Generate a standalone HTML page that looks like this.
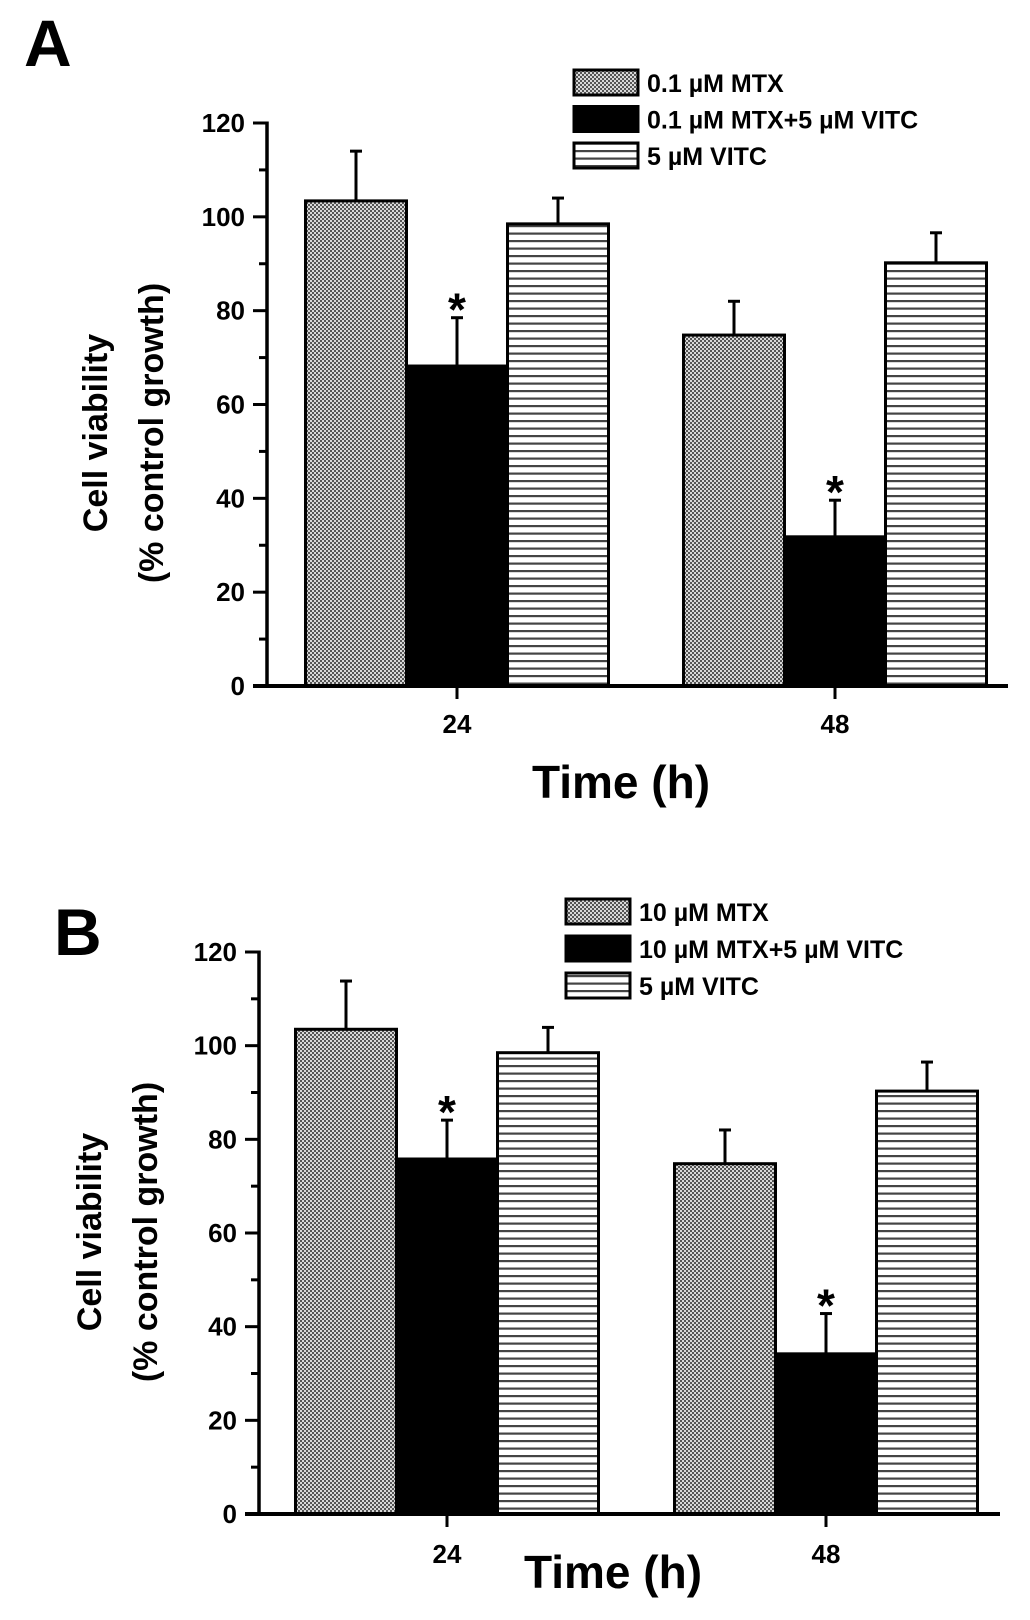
<!DOCTYPE html>
<html><head><meta charset="utf-8">
<style>
html,body{margin:0;padding:0;background:#fff;}
svg{display:block;font-family:"Liberation Sans",Arial,sans-serif;font-weight:bold;}
</style></head>
<body>
<svg id="fig" width="1030" height="1620" viewBox="0 0 1030 1620" xmlns="http://www.w3.org/2000/svg">
<defs>
<pattern id="dots" width="4" height="4" patternUnits="userSpaceOnUse">
<rect width="4" height="4" fill="#d8d8d8"/>
<rect width="2" height="2" fill="#555"/>
<rect x="2" y="2" width="2" height="2" fill="#555"/>
</pattern>
<pattern id="hlines" width="8" height="7.5" patternUnits="userSpaceOnUse">
<rect width="8" height="7.5" fill="#fff"/>
<rect y="0" width="8" height="2.2" fill="#444"/>
</pattern>
</defs>
</svg>
<script>
const categories = ["24", "48"];
const yTicks = [0, 20, 40, 60, 80, 100, 120];
const legendA = ["0.1 µM MTX", "0.1 µM MTX+5 µM VITC", "5 µM VITC"];
const legendB = ["10 µM MTX", "10 µM MTX+5 µM VITC", "5 µM VITC"];
const aMTX = [103.4, 74.8];
const aCombo = [68.2, 31.8];
const aVitc = [98.5, 90.2];
const aMTXErr = [10.6, 7.2];
const aComboErr = [10.3, 7.8];
const aVitcErr = [5.5, 6.4];
const bMTX = [103.5, 74.8];
const bCombo = [75.8, 34.2];
const bVitc = [98.5, 90.3];
const bMTXErr = [10.3, 7.2];
const bComboErr = [8.3, 8.6];
const bVitcErr = [5.4, 6.2];
const aStars = [false, true, false];
const bStars = [false, true, false];

const NS = "http://www.w3.org/2000/svg";
const svg = document.getElementById("fig");
function mk(tag, attrs, parent, text) {
  const e = document.createElementNS(NS, tag);
  for (const k in attrs) e.setAttribute(k, attrs[k]);
  if (text !== undefined) e.textContent = text;
  (parent || svg).appendChild(e);
  return e;
}

function drawPanel(cfg) {
  const g = mk("g", {});
  
  
  const yScale = v => cfg.y0 - (cfg.y0 - cfg.y120) * v / 120;
  const groupCenters = cfg.groupCenters;
  const bw = cfg.barW;
  const xBar = (gi, si) => groupCenters[gi] + (si - 1) * bw - bw / 2;

  const series = [cfg.s1, cfg.s2, cfg.s3];
  const errs = [cfg.e1, cfg.e2, cfg.e3];
  const fills = ["url(#dots)", "#000", "url(#hlines)"];
  const snames = ["mtx", "combo", "vitc"];
  for (let gi = 0; gi < categories.length; gi++) {
    for (let si = 0; si < 3; si++) {
      const v = series[si][gi];
      const x = xBar(gi, si);
      const top = yScale(v);
      const et = yScale(v + errs[si][gi]);
      const cx = x + bw / 2;
      const el = mk("line", {x1: cx, x2: cx, y1: top, y2: et, stroke: "#000", "stroke-width": 3}, g);
      
      
      const cap = mk("line", {x1: cx - 6, x2: cx + 6, y1: et, y2: et, stroke: "#000", "stroke-width": 3}, g);
      
      
      const r = mk("rect", {x: x, y: top, width: bw, height: cfg.y0 - top, fill: fills[si], stroke: "#000", "stroke-width": 3}, g);
      
      
      if (cfg.stars[si]) {
        const s = mk("text", {x: cx, y: et + 8, "text-anchor": "middle", "font-size": 46}, g, "*");
        
        
      }
    }
  }
  const ya = mk("line", {x1: cfg.ax, x2: cfg.ax, y1: cfg.y120 - 1.5, y2: cfg.y0 + 1.5, stroke: "#000", "stroke-width": 3.5}, g);
  
  
  const xa = mk("line", {x1: cfg.ax - 14, x2: cfg.xEnd, y1: cfg.y0, y2: cfg.y0, stroke: "#000", "stroke-width": 4}, g);
  
  
  for (let i = 0; i < yTicks.length; i++) {
    const t = yTicks[i];
    const y = yScale(t);
    const tk = mk("line", {x1: cfg.ax - 14, x2: cfg.ax, y1: y, y2: y, stroke: "#000", "stroke-width": 3}, g);
    
    
    const lb = mk("text", {x: cfg.ax - 22, y: y + 9, "text-anchor": "end", "font-size": 26}, g, String(t));
    
    
    if (i < yTicks.length - 1) {
      const ym = yScale(t + 10);
      const mt = mk("line", {x1: cfg.ax - 8, x2: cfg.ax, y1: ym, y2: ym, stroke: "#000", "stroke-width": 3}, g);
      
      
    }
  }
  for (let gi = 0; gi < categories.length; gi++) {
    const cx = groupCenters[gi];
    const tk = mk("line", {x1: cx, x2: cx, y1: cfg.y0, y2: cfg.y0 + 13, stroke: "#000", "stroke-width": 3}, g);
    
    
    const lb = mk("text", {x: cx, y: cfg.xLabelY, "text-anchor": "middle", "font-size": 26}, g, categories[gi]);
    
    
  }
  const xt = mk("text", {x: cfg.xTitleX, y: cfg.xTitleY, "text-anchor": "middle", "font-size": 46}, g, "Time (h)");
  
  
  const yt1 = mk("text", {x: 0, y: 0, "text-anchor": "middle", "font-size": 34, transform: "translate(" + cfg.yTitleX1 + "," + cfg.yTitleY + ") rotate(-90)"}, g, "Cell viability");
  
  
  const yt2 = mk("text", {x: 0, y: 0, "text-anchor": "middle", "font-size": 34, transform: "translate(" + cfg.yTitleX2 + "," + cfg.yTitleY + ") rotate(-90)"}, g, "(% control growth)");
  
  
  const pl = mk("text", {x: cfg.letterX, y: cfg.letterY, "font-size": 66}, g, cfg.letter);
  
  
  for (let i = 0; i < 3; i++) {
    const ly = cfg.legY + i * cfg.legStep;
    const box = mk("rect", {x: cfg.legX, y: ly, width: 64, height: 25, fill: fills[i], stroke: "#000", "stroke-width": 3}, g);
    
    
    const lt = mk("text", {x: cfg.legX + 73, y: ly + 22, "font-size": 25}, g, cfg.legend[i]);
    
    
  }
}

drawPanel({id: "panel-a", letter: "A", letterX: 24, letterY: 66,
  s1: aMTX, s2: aCombo, s3: aVitc, e1: aMTXErr, e2: aComboErr, e3: aVitcErr, stars: aStars,
  ax: 267, y0: 686, y120: 123, xEnd: 1008, groupCenters: [457, 835], barW: 101,
  xLabelY: 733, xTitleX: 621, xTitleY: 798, yTitleX1: 107, yTitleX2: 163, yTitleY: 433,
  legX: 574, legY: 70, legStep: 36.5, legend: legendA});
drawPanel({id: "panel-b", letter: "B", letterX: 54, letterY: 955,
  s1: bMTX, s2: bCombo, s3: bVitc, e1: bMTXErr, e2: bComboErr, e3: bVitcErr, stars: bStars,
  ax: 259, y0: 1514, y120: 952, xEnd: 1000, groupCenters: [447, 826], barW: 101,
  xLabelY: 1563, xTitleX: 613, xTitleY: 1588, yTitleX1: 101, yTitleX2: 157, yTitleY: 1232,
  legX: 566, legY: 899, legStep: 37, legend: legendB});
</script>
</body></html>
